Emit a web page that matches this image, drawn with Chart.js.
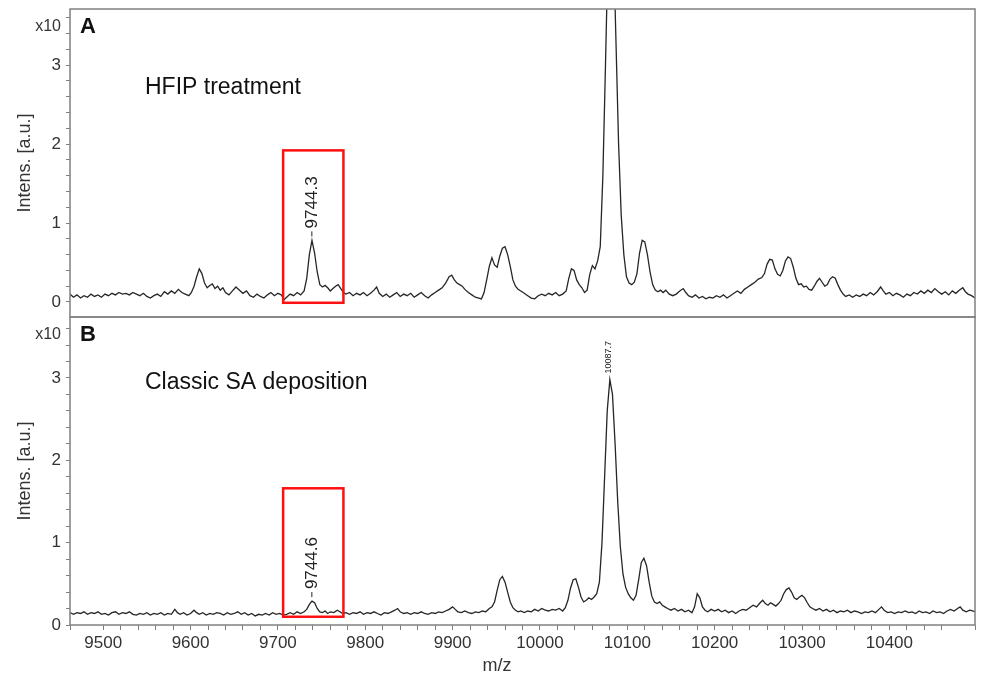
<!DOCTYPE html>
<html>
<head>
<meta charset="utf-8">
<script src="https://cdn.jsdelivr.net/npm/chart.js@4.4.0/dist/chart.umd.min.js"></script>
<style>
  html, body { margin: 0; padding: 0; background: #fff; }
  #wrap { position: relative; width: 981px; height: 680px; }
  canvas { position: absolute; left: 0; }
  #topChart { top: 0; }
  #bottomChart { top: 300px; }
</style>
</head>
<body>
<div id="wrap">
  <canvas id="topChart" width="981" height="320"></canvas>
  <canvas id="bottomChart" width="981" height="380"></canvas>
</div>
<script>
// ── Data (m/z, intensity x10^4) ──
const xTickLabels = [9500, 9600, 9700, 9800, 9900, 10000, 10100, 10200, 10300, 10400];
const yTickLabels = [0, 1, 2, 3];
const yTicks = [0, 0.2, 0.4, 0.6, 0.8, 1, 1.2, 1.4, 1.6, 1.8, 2, 2.2, 2.4, 2.6, 2.8, 3, 3.2, 3.4, 3.6];

// A: HFIP treatment
const topSpectrum = [
  [9462,0.10],[9466,0.06],[9470,0.09],[9474,0.05],[9478,0.08],[9482,0.06],[9486,0.10],[9490,0.07],[9494,0.09],[9498,0.06],
  [9502,0.10],[9506,0.08],[9510,0.11],[9514,0.09],[9518,0.12],[9522,0.10],[9526,0.11],[9530,0.09],[9534,0.12],[9538,0.10],
  [9542,0.08],[9546,0.11],[9550,0.07],[9554,0.05],[9558,0.08],[9562,0.10],[9566,0.07],[9570,0.13],[9574,0.10],[9578,0.14],
  [9582,0.11],[9586,0.16],[9590,0.12],[9594,0.10],[9598,0.08],[9601,0.12],[9604,0.20],[9607,0.32],[9610,0.42],[9613,0.36],
  [9616,0.24],[9619,0.18],[9622,0.21],[9625,0.23],[9628,0.17],[9631,0.20],[9634,0.15],[9637,0.18],[9640,0.12],[9644,0.09],
  [9648,0.14],[9652,0.19],[9656,0.15],[9660,0.11],[9664,0.14],[9668,0.08],[9672,0.06],[9676,0.10],[9680,0.07],[9684,0.05],
  [9688,0.09],[9692,0.12],[9696,0.08],[9700,0.11],[9704,0.09],[9707,0.03],[9710,0.06],[9714,0.10],[9718,0.08],[9722,0.12],
  [9726,0.09],[9730,0.14],[9733,0.30],[9736,0.60],[9739,0.78],[9742,0.62],[9745,0.38],[9748,0.22],[9751,0.19],[9754,0.21],
  [9757,0.18],[9760,0.14],[9763,0.17],[9766,0.20],[9769,0.22],[9772,0.17],[9775,0.12],[9778,0.10],[9782,0.12],[9786,0.08],
  [9790,0.11],[9794,0.09],[9798,0.12],[9802,0.08],[9806,0.11],[9810,0.15],[9813,0.19],[9816,0.11],[9820,0.07],[9824,0.10],
  [9828,0.06],[9832,0.09],[9836,0.12],[9840,0.07],[9844,0.10],[9848,0.08],[9852,0.11],[9856,0.06],[9860,0.09],[9864,0.12],
  [9868,0.08],[9872,0.05],[9876,0.09],[9880,0.12],[9884,0.15],[9888,0.18],[9892,0.24],[9896,0.32],[9899,0.34],[9902,0.28],
  [9905,0.24],[9908,0.22],[9911,0.20],[9914,0.16],[9918,0.12],[9922,0.09],[9926,0.06],[9930,0.05],[9933,0.04],[9936,0.12],
  [9939,0.28],[9942,0.45],[9945,0.56],[9948,0.47],[9951,0.44],[9954,0.58],[9957,0.68],[9960,0.70],[9963,0.60],[9966,0.45],
  [9969,0.28],[9972,0.20],[9975,0.16],[9978,0.14],[9982,0.11],[9986,0.08],[9990,0.05],[9994,0.04],[9998,0.08],[10002,0.10],
  [10006,0.08],[10010,0.11],[10014,0.09],[10018,0.12],[10022,0.08],[10026,0.10],[10030,0.14],[10033,0.30],[10036,0.42],[10039,0.40],
  [10042,0.28],[10045,0.22],[10048,0.18],[10051,0.12],[10054,0.15],[10057,0.35],[10060,0.46],[10063,0.42],[10066,0.52],[10069,0.70],
  [10072,1.60],[10075,3.00],[10078,4.50],[10081,5.20],[10084,4.60],[10087,3.30],[10090,2.00],[10093,1.10],[10096,0.60],[10099,0.32],
  [10102,0.24],[10105,0.22],[10108,0.25],[10111,0.36],[10114,0.62],[10117,0.78],[10120,0.76],[10123,0.60],[10126,0.38],[10129,0.22],
  [10132,0.15],[10135,0.13],[10138,0.15],[10141,0.12],[10144,0.15],[10148,0.10],[10152,0.08],[10156,0.10],[10160,0.14],[10164,0.17],
  [10167,0.12],[10170,0.08],[10174,0.06],[10178,0.09],[10182,0.05],[10186,0.07],[10190,0.04],[10194,0.06],[10198,0.05],[10202,0.08],
  [10206,0.06],[10210,0.09],[10214,0.05],[10218,0.08],[10222,0.11],[10226,0.14],[10230,0.11],[10234,0.16],[10238,0.19],[10242,0.22],
  [10246,0.25],[10250,0.29],[10254,0.31],[10257,0.36],[10260,0.48],[10263,0.54],[10266,0.53],[10269,0.42],[10272,0.35],[10275,0.33],
  [10278,0.40],[10281,0.52],[10284,0.57],[10287,0.55],[10290,0.44],[10293,0.30],[10296,0.22],[10299,0.23],[10302,0.19],[10305,0.20],
  [10308,0.16],[10311,0.15],[10314,0.20],[10317,0.26],[10320,0.30],[10323,0.25],[10326,0.20],[10329,0.22],[10332,0.29],[10335,0.32],
  [10338,0.30],[10341,0.22],[10344,0.15],[10347,0.10],[10350,0.07],[10354,0.09],[10358,0.06],[10362,0.09],[10366,0.07],[10370,0.10],
  [10374,0.08],[10378,0.12],[10382,0.09],[10386,0.13],[10390,0.19],[10393,0.14],[10396,0.10],[10400,0.12],[10404,0.08],[10408,0.11],
  [10412,0.09],[10416,0.06],[10420,0.10],[10424,0.08],[10428,0.12],[10432,0.10],[10436,0.14],[10440,0.11],[10444,0.15],[10448,0.12],
  [10452,0.17],[10456,0.13],[10460,0.10],[10464,0.13],[10468,0.09],[10472,0.14],[10476,0.11],[10480,0.15],[10484,0.18],[10487,0.13],
  [10490,0.10],[10494,0.08],[10498,0.05]
];

// B: Classic SA deposition
const bottomSpectrum = [
  [9462,0.15],[9466,0.13],[9470,0.15],[9474,0.14],[9478,0.16],[9482,0.13],[9486,0.15],[9490,0.14],[9494,0.16],[9498,0.13],
  [9502,0.14],[9506,0.12],[9510,0.15],[9514,0.16],[9518,0.13],[9522,0.15],[9526,0.14],[9530,0.16],[9534,0.13],[9538,0.12],
  [9542,0.14],[9546,0.13],[9550,0.15],[9554,0.12],[9558,0.14],[9562,0.13],[9566,0.15],[9570,0.12],[9574,0.14],[9578,0.13],
  [9582,0.19],[9585,0.15],[9588,0.13],[9592,0.15],[9596,0.12],[9600,0.14],[9604,0.18],[9607,0.15],[9610,0.13],[9614,0.15],
  [9618,0.12],[9622,0.14],[9626,0.13],[9630,0.15],[9634,0.14],[9638,0.12],[9642,0.15],[9646,0.13],[9650,0.14],[9654,0.16],
  [9658,0.13],[9662,0.15],[9666,0.12],[9670,0.14],[9674,0.11],[9678,0.13],[9682,0.12],[9686,0.14],[9690,0.12],[9694,0.15],
  [9698,0.13],[9702,0.14],[9706,0.12],[9710,0.13],[9714,0.15],[9718,0.13],[9722,0.16],[9726,0.14],[9730,0.16],[9733,0.19],
  [9736,0.25],[9739,0.29],[9742,0.27],[9745,0.20],[9748,0.16],[9751,0.15],[9754,0.17],[9757,0.14],[9760,0.16],[9764,0.15],
  [9768,0.18],[9771,0.16],[9774,0.14],[9778,0.15],[9782,0.13],[9786,0.15],[9790,0.14],[9794,0.16],[9798,0.13],[9802,0.15],
  [9806,0.14],[9810,0.16],[9814,0.14],[9818,0.12],[9822,0.15],[9826,0.14],[9830,0.16],[9834,0.18],[9837,0.20],[9840,0.16],
  [9844,0.14],[9848,0.15],[9852,0.13],[9856,0.15],[9860,0.14],[9864,0.16],[9868,0.14],[9872,0.13],[9876,0.15],[9880,0.14],
  [9884,0.16],[9888,0.15],[9892,0.17],[9896,0.19],[9900,0.22],[9903,0.19],[9906,0.16],[9910,0.15],[9914,0.17],[9918,0.15],
  [9922,0.14],[9926,0.16],[9930,0.15],[9934,0.17],[9938,0.16],[9942,0.20],[9945,0.22],[9948,0.28],[9951,0.42],[9954,0.55],
  [9957,0.59],[9960,0.52],[9963,0.40],[9966,0.28],[9969,0.21],[9972,0.18],[9975,0.16],[9978,0.17],[9982,0.15],[9986,0.17],
  [9990,0.16],[9994,0.19],[9998,0.17],[10002,0.20],[10006,0.18],[10010,0.17],[10014,0.19],[10018,0.18],[10022,0.20],[10026,0.17],
  [10029,0.21],[10032,0.30],[10035,0.45],[10038,0.55],[10041,0.56],[10044,0.46],[10047,0.34],[10050,0.28],[10053,0.30],[10056,0.33],
  [10059,0.31],[10062,0.34],[10065,0.38],[10068,0.52],[10071,1.00],[10074,1.80],[10077,2.60],[10080,2.98],[10083,2.80],[10086,2.20],
  [10089,1.50],[10092,0.95],[10095,0.62],[10098,0.46],[10101,0.38],[10104,0.33],[10107,0.30],[10110,0.36],[10113,0.55],[10116,0.76],
  [10119,0.81],[10122,0.72],[10125,0.52],[10128,0.35],[10131,0.28],[10134,0.26],[10137,0.28],[10140,0.24],[10143,0.22],[10146,0.20],
  [10150,0.18],[10154,0.20],[10158,0.17],[10162,0.19],[10166,0.16],[10170,0.18],[10174,0.15],[10177,0.22],[10180,0.38],[10183,0.33],
  [10186,0.22],[10189,0.18],[10192,0.16],[10196,0.19],[10200,0.17],[10204,0.19],[10208,0.16],[10212,0.18],[10216,0.15],[10220,0.17],
  [10224,0.14],[10228,0.17],[10232,0.19],[10236,0.18],[10240,0.21],[10244,0.24],[10248,0.22],[10252,0.27],[10255,0.30],[10258,0.26],
  [10261,0.24],[10264,0.27],[10267,0.25],[10270,0.23],[10273,0.26],[10276,0.30],[10279,0.38],[10282,0.43],[10285,0.45],[10288,0.40],
  [10291,0.33],[10294,0.31],[10297,0.34],[10300,0.36],[10303,0.33],[10306,0.27],[10309,0.22],[10312,0.20],[10316,0.18],[10320,0.20],
  [10324,0.17],[10328,0.19],[10332,0.16],[10336,0.18],[10340,0.15],[10344,0.17],[10348,0.16],[10352,0.18],[10356,0.15],[10360,0.17],
  [10364,0.16],[10368,0.14],[10372,0.16],[10376,0.15],[10380,0.17],[10384,0.15],[10388,0.19],[10391,0.22],[10394,0.18],[10398,0.15],
  [10402,0.16],[10406,0.14],[10410,0.16],[10414,0.15],[10418,0.17],[10422,0.15],[10426,0.16],[10430,0.14],[10434,0.17],[10438,0.15],
  [10442,0.16],[10446,0.14],[10450,0.17],[10454,0.15],[10458,0.16],[10462,0.14],[10466,0.17],[10470,0.19],[10474,0.17],[10478,0.20],
  [10481,0.22],[10484,0.18],[10488,0.16],[10492,0.18],[10496,0.17],[10498,0.16]
];

// peak labels: [m/z, intensity, text]
const topPeaks = [[9740, 0.78, '9744.3']];
const bottomPeaks = [[9740, 0.29, '9744.6'], [10080, 2.98, '10087.7']];

// highlight boxes: [m/z from, m/z to, int from, int to]
const topBox = [9706, 9775, -0.01, 1.92];
const bottomBox = [9706, 9775, 0.10, 1.66];

const FONT = '"Liberation Sans", Arial, sans-serif';

// ── Decorations: frame, red box, peak labels, panel texts ──
const panelDecor = {
  id: 'panelDecor',
  afterDatasetsDraw(chart, args, o) {
    const { ctx, chartArea: a, scales: { x, y } } = chart;
    ctx.save();

    // red box
    const bx1 = x.getPixelForValue(o.box[0]), bx2 = x.getPixelForValue(o.box[1]);
    const by1 = y.getPixelForValue(o.box[3]), by2 = y.getPixelForValue(o.box[2]);
    ctx.strokeStyle = '#ff1010';
    ctx.lineWidth = 2.5;
    ctx.strokeRect(bx1, by1, bx2 - bx1, by2 - by1);

    // peak labels (rotated)
    o.peaks.forEach(([mz, val, text]) => {
      const px = x.getPixelForValue(mz), py = y.getPixelForValue(val);
      const small = text.length > 6;
      ctx.fillStyle = '#222';
      ctx.strokeStyle = '#222';
      ctx.lineWidth = 1;
      if (!small) {
        ctx.beginPath();
        ctx.moveTo(px - 1, py - 4);
        ctx.lineTo(px - 1, py - 9);
        ctx.stroke();
      }
      ctx.save();
      ctx.translate(px - 1, py - (small ? 6 : 12));
      ctx.rotate(-Math.PI / 2);
      ctx.font = (small ? '9px ' : '17px ') + FONT;
      ctx.textAlign = 'left';
      ctx.textBaseline = 'middle';
      ctx.fillText(text, 0, 0);
      ctx.restore();
    });

    // frame
    ctx.strokeStyle = '#808080';
    ctx.lineWidth = 1.5;
    ctx.strokeRect(a.left, a.top, a.right - a.left, a.bottom - a.top);

    // texts
    ctx.fillStyle = '#111';
    ctx.textBaseline = 'middle';
    ctx.font = 'bold 22px ' + FONT;
    ctx.textAlign = 'left';
    ctx.fillText(o.letter, 80, o.letterY);
    ctx.font = '23px ' + FONT;
    ctx.fillText(o.note, 145, o.noteY);
    ctx.fillStyle = '#333';
    ctx.font = '16px ' + FONT;
    ctx.textAlign = 'right';
    ctx.fillText('x10', 61, o.letterY);
    if (o.xTitle) {
      ctx.font = '18px ' + FONT;
      ctx.textAlign = 'center';
      ctx.fillText('m/z', 497, o.xTitleY);
    }
    ctx.restore();
  }
};

function makePanel(id, spectrum, yMin, yMax, showX, pad, decor) {
  return new Chart(document.getElementById(id), {
    type: 'line',
    data: {
      datasets: [{
        data: spectrum.map(([mz, v]) => ({ x: mz, y: v })),
        borderColor: '#262626',
        borderWidth: 1.3,
        pointRadius: 0,
        tension: 0
      }]
    },
    options: {
      responsive: false,
      animation: false,
      parsing: false,
      layout: { padding: pad },
      plugins: { legend: { display: false }, tooltip: { enabled: false }, panelDecor: decor },
      scales: {
        x: {
          type: 'linear',
          min: 9462, max: 10498,
          display: showX,
          afterFit: s => { s.height = showX ? 55 : 0; s.paddingLeft = 0; s.paddingRight = 0; },
          border: { display: false },
          grid: { drawOnChartArea: false, tickLength: 5, color: '#808080' },
          ticks: {
            stepSize: 20,
            padding: 3,
            autoSkip: false,
            maxRotation: 0,
            color: '#333',
            font: { family: FONT, size: 17 },
            callback: v => xTickLabels.includes(v) ? String(v) : ''
          }
        },
        y: {
          min: yMin, max: yMax,
          afterBuildTicks: s => { s.ticks = yTicks.map(v => ({ value: v })); },
          afterFit: s => { s.width = 70; s.paddingTop = 0; s.paddingBottom = 0; },
          border: { display: false },
          grid: { drawOnChartArea: false, tickLength: 4, color: '#808080' },
          title: {
            display: true,
            text: 'Intens. [a.u.]',
            color: '#333',
            font: { family: FONT, size: 18 },
            padding: { top: 14, bottom: 0 }
          },
          ticks: {
            padding: 5,
            autoSkip: false,
            color: '#333',
            font: { family: FONT, size: 17 },
            callback: v => yTickLabels.includes(v) ? String(v) : ''
          }
        }
      }
    },
    plugins: [panelDecor]
  });
}

makePanel('topChart', topSpectrum, -0.19, 3.71, false,
  { left: 0, right: 6, top: 9, bottom: 3 },
  { box: topBox, peaks: topPeaks, letter: 'A', letterY: 27, note: 'HFIP treatment', noteY: 88 });

makePanel('bottomChart', bottomSpectrum, 0, 3.74, true,
  { left: 0, right: 6, top: 17, bottom: 0 },
  { box: bottomBox, peaks: bottomPeaks, letter: 'B', letterY: 35, note: 'Classic SA deposition', noteY: 83, xTitle: true, xTitleY: 366 });
</script>
</body>
</html>
